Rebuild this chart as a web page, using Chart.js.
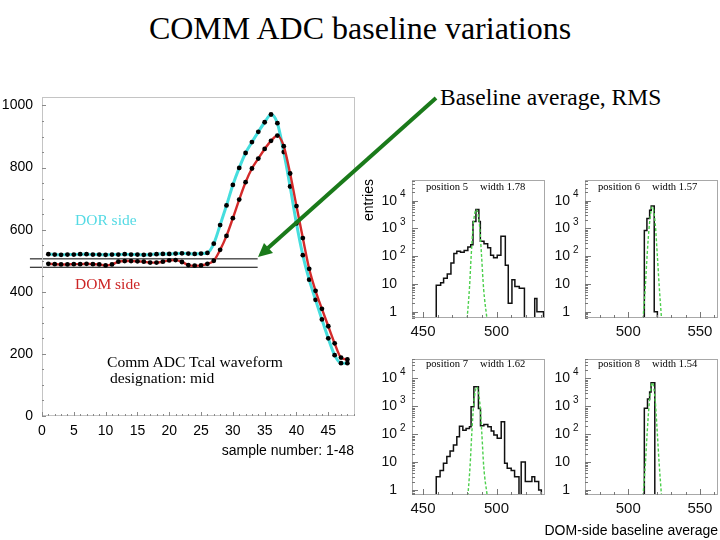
<!DOCTYPE html>
<html lang="en">
<head>
<meta charset="UTF-8">
<title>COMM ADC baseline variations</title>
<script src="https://cdn.jsdelivr.net/npm/chart.js@4.4.1/dist/chart.umd.min.js"></script>
<style>
    body {
        margin: 0;
        width: 720px;
        height: 540px;
        position: relative;
        overflow: hidden;
        background: #fff;
        color: #000;
        font-family: "Liberation Sans", Arial, sans-serif;
    }
    canvas, .txt, svg { position: absolute; }
    .txt { white-space: nowrap; line-height: 1; }
    .serif { font-family: "Liberation Serif", "Times New Roman", serif; }
    .pos { font-size: 10.6px; }
</style>
</head>
<body>
<div class="txt serif" style="left:0;width:720px;text-align:center;top:12px;font-size:32px">COMM ADC baseline variations</div>
<div class="txt serif" style="left:440px;top:86px;font-size:23.5px">Baseline average, RMS</div>

<canvas id="mainChart" width="360" height="380" style="left:0;top:80px"></canvas>
<canvas id="hist5" width="178" height="172" style="left:372px;top:170px"></canvas>
<canvas id="hist6" width="175" height="172" style="left:545px;top:170px"></canvas>
<canvas id="hist7" width="178" height="172" style="left:372px;top:349px"></canvas>
<canvas id="hist8" width="175" height="172" style="left:545px;top:349px"></canvas>

<div class="txt serif" style="left:75px;top:212px;font-size:15.5px;color:#54dae4">DOR side</div>
<div class="txt serif" style="left:75px;top:276px;font-size:15.5px;color:#cc2424">DOM side</div>
<div class="txt serif" style="left:107px;top:354px;font-size:15.6px">Comm ADC Tcal waveform</div>
<div class="txt serif" style="left:110px;top:370px;font-size:15.6px">designation: mid</div>
<div class="txt" style="right:366px;top:443px;font-size:14px">sample number: 1-48</div>

<div class="txt" style="left:368px;top:200px;font-size:14px;transform:translate(-50%,-50%) rotate(-90deg)">entries</div>
<div class="txt" style="right:2px;top:523px;font-size:14px">DOM-side baseline average</div>

<div class="txt serif pos" style="left:426px;top:182px">position 5</div>
<div class="txt serif pos" style="left:480px;top:182px">width 1.78</div>
<div class="txt serif pos" style="left:598px;top:182px">position 6</div>
<div class="txt serif pos" style="left:652px;top:182px">width 1.57</div>
<div class="txt serif pos" style="left:426px;top:359px">position 7</div>
<div class="txt serif pos" style="left:480px;top:359px">width 1.62</div>
<div class="txt serif pos" style="left:598px;top:359px">position 8</div>
<div class="txt serif pos" style="left:652px;top:359px">width 1.54</div>

<svg width="720" height="540" style="left:0;top:0;pointer-events:none">
    <line x1="436" y1="98" x2="268" y2="248" stroke="#1a7a1a" stroke-width="4"/>
    <polygon points="258,257 273,253 264,243" fill="#1a7a1a"/>
</svg>

<script>
// waveform, sample number 1-48
const sampleNo = [1, 2, 3, 4, 5, 6, 7, 8, 9, 10, 11, 12, 13, 14, 15, 16, 17, 18, 19, 20, 21, 22, 23, 24,
                  25, 26, 27, 28, 29, 30, 31, 32, 33, 34, 35, 36, 37, 38, 39, 40, 41, 42, 43, 44, 45, 46, 47, 48];
const dorSide = [521, 520, 519, 520, 520, 521, 521, 520, 520, 519, 520, 520, 521, 520, 520, 519, 520, 521, 522, 522,
                 523, 524, 523, 522, 523, 525, 555, 615, 678, 744, 799, 847, 882, 915, 946, 971, 943, 850, 739, 620,
                 518, 439, 374, 311, 250, 196, 170, 170];
const domSide = [490, 489, 488, 488, 489, 489, 490, 489, 488, 485, 488, 497, 499, 499, 498, 497, 494, 494, 497, 501,
                 502, 496, 486, 484, 485, 490, 500, 535, 580, 637, 697, 753, 797, 829, 860, 886, 903, 869, 781, 676,
                 573, 474, 403, 345, 289, 234, 188, 182];
const mainXTicks = [0, 5, 10, 15, 20, 25, 30, 35, 40, 45];
const mainYTicks = [0, 200, 400, 600, 800, 1000];
const baselineMarks = [506, 479];
const markSpan = [-1.9, 33.9];

// histograms: bin edges, entries per bin, dashed fit curve
const edges5 = [459, 462, 464, 466.5, 469, 471, 473, 475.5, 478, 480.5, 482.5, 484, 486, 488, 489, 491.5,
                494, 496, 498, 500.5, 503, 506, 508, 510.5, 512.5, 515.5, 519, 526, 527.5, 532];
const counts5 = [9, 11, 16, 23, 57, 124, 150, 140, 160, 215, 260, 1800, 4800, 1800, 345, 280,
                 200, 108, 87, 108, 525, 47, 2, 14, 8, 7, 0, 3, 1];
const fit5X = [480, 481.6, 482.8, 484.2, 486.3, 488.4, 489.8, 491.2, 493.5];
const fit5Y = [0.55, 7, 110, 1400, 4800, 1400, 110, 7, 0.55];

const edges6 = [511.2, 513, 514.9, 516, 518.1, 520.3];
const counts6 = [840, 2300, 4500, 6500, 1];
const fit6X = [510.3, 511.9, 513.2, 514.8, 516.8, 518.8, 520.2, 521.6, 523.2];
const fit6Y = [0.55, 8, 120, 1500, 6200, 1500, 120, 8, 0.55];

const edges7 = [459, 461.6, 463.9, 466.2, 468.4, 470.7, 473, 474.8, 477.1, 479.3, 481.6, 482.7, 484.6, 487.7,
                489.1, 491.4, 494.1, 496.4, 498.2, 500.5, 503.2, 505.5, 507.3, 510, 512.3, 515.3, 516.8, 519.6,
                524.1, 526, 528.7, 530.5];
const counts7 = [3, 5, 9, 16, 25, 41, 81, 195, 140, 160, 185, 960, 5000, 840, 200, 225, 185, 130, 93, 71,
                 280, 9, 6, 5, 3, 0, 10, 2, 3, 2, 1];
const fit7X = [480.5, 482, 483.2, 484.6, 486.6, 488.6, 490, 491.3, 493.7];
const fit7Y = [0.6, 7, 110, 1400, 5000, 1400, 110, 7, 0.6];

const edges8 = [511.2, 513.4, 514.9, 515.9, 518.5];
const counts8 = [850, 1850, 3300, 7000];
const fit8X = [510.3, 511.9, 513.2, 514.8, 516.8, 518.8, 520.2, 521.6, 523.2];
const fit8Y = [0.6, 8, 120, 1600, 7000, 1600, 120, 8, 0.6];

const logTicks = [1, 10, 100, 1000, 10000];

const pts = (xs, ys) => xs.map((x, i) => ({ x: x, y: ys[i] }));

// ROOT-like frame with ticks pointing into the plot
const rootAxes = {
    id: 'rootAxes',
    afterDatasetsDraw(chart, args, o) {
        const { ctx, chartArea: a, scales: { x, y } } = chart;
        ctx.save();
        ctx.lineWidth = 1;
        ctx.strokeStyle = o.frame;
        ctx.strokeRect(Math.round(a.left) + 0.5, Math.round(a.top) + 0.5,
                       Math.round(a.right - a.left) - 1, Math.round(a.bottom - a.top) - 1);

        ctx.strokeStyle = o.tickColor;
        ctx.beginPath();
        for (let i = Math.ceil(x.min / o.xMinor); i * o.xMinor <= x.max; i++) {
            const v = i * o.xMinor;
            const px = Math.round(x.getPixelForValue(v)) + 0.5;
            ctx.moveTo(px, a.bottom);
            ctx.lineTo(px, a.bottom - (v % o.xMajor === 0 ? o.major : o.minor));
        }
        const yt = [];
        if (y.type === 'logarithmic') {
            for (let k = Math.floor(Math.log10(y.min)); k <= Math.ceil(Math.log10(y.max)); k++) {
                for (let m = 1; m < 10; m++) {
                    const v = m * Math.pow(10, k);
                    if (v >= y.min && v <= y.max) yt.push([v, m === 1]);
                }
            }
        } else {
            for (let i = Math.ceil(y.min / o.yMinor); i * o.yMinor <= y.max; i++) {
                const v = i * o.yMinor;
                yt.push([v, v % o.yMajor === 0]);
            }
        }
        yt.forEach(([v, major]) => {
            const py = Math.round(y.getPixelForValue(v)) + 0.5;
            ctx.moveTo(a.left, py);
            ctx.lineTo(a.left + (major ? o.major : o.minor), py);
        });
        ctx.stroke();

        if (o.logLabels) {
            ctx.fillStyle = '#111';
            ctx.textBaseline = 'middle';
            const rx = a.left - 15;
            logTicks.forEach(v => {
                const py = y.getPixelForValue(v);
                const k = Math.round(Math.log10(v));
                ctx.font = '14px "Liberation Sans"';
                ctx.textAlign = 'right';
                ctx.fillText(k < 2 ? String(v) : '10', rx, py);
                if (k >= 2) {
                    ctx.font = '10px "Liberation Sans"';
                    ctx.textAlign = 'left';
                    ctx.fillText(String(k), rx + 3, py - 6);
                }
            });
        }
        ctx.restore();
    }
};
Chart.register(rootAxes);

new Chart(document.getElementById('mainChart'), {
    type: 'line',
    data: {
        datasets: [
            {
                data: pts(sampleNo, domSide),
                borderColor: '#d42a2a', borderWidth: 2.4,
                pointRadius: 2.4, pointBackgroundColor: '#000', pointBorderWidth: 0,
                cubicInterpolationMode: 'monotone'
            },
            {
                data: pts(sampleNo, dorSide),
                borderColor: '#46dede', borderWidth: 3,
                pointRadius: 2.4, pointBackgroundColor: '#000', pointBorderWidth: 0,
                cubicInterpolationMode: 'monotone'
            },
            ...baselineMarks.map(v => ({
                data: markSpan.map(x => ({ x: x, y: v })),
                borderColor: '#000', borderWidth: 1, pointRadius: 0, clip: false
            }))
        ]
    },
    options: {
        responsive: false,
        animation: false,
        devicePixelRatio: 1,
        layout: { padding: { top: 11, right: 5, left: 0, bottom: 0 } },
        plugins: {
            legend: { display: false },
            tooltip: { enabled: false },
            rootAxes: { frame: '#c4c4c4', tickColor: '#8a8a8a', xMinor: 1, xMajor: 5, yMinor: 50, yMajor: 200, major: 4, minor: 2 }
        },
        scales: {
            x: {
                type: 'linear', min: 0, max: 49.2,
                afterBuildTicks: s => { s.ticks = mainXTicks.map(v => ({ value: v })); },
                afterFit: s => { s.height = 44; },
                grid: { display: false, drawTicks: false },
                border: { display: false },
                ticks: { font: { family: 'Liberation Sans', size: 14 }, color: '#000', padding: 7, maxRotation: 0, autoSkip: false,
                         callback: v => String(v) }
            },
            y: {
                type: 'linear', min: 0, max: 1026,
                afterBuildTicks: s => { s.ticks = mainYTicks.map(v => ({ value: v })); },
                afterFit: s => { s.width = 42; },
                grid: { display: false, drawTicks: false },
                border: { display: false },
                ticks: { font: { family: 'Liberation Sans', size: 14 }, color: '#000', padding: 9,
                         callback: v => String(v) }
            }
        }
    }
});

function histChart(id, edges, counts, fitX, fitY, xRange, xTicks, yRange, xHeight, padRight) {
    const floor = yRange[0] / 5;
    const steps = [{ x: edges[0], y: floor }];
    counts.forEach((c, i) => steps.push({ x: edges[i], y: c > 0 ? c : floor }));
    steps.push({ x: edges[edges.length - 1], y: floor });

    return new Chart(document.getElementById(id), {
        type: 'line',
        data: {
            datasets: [
                {
                    data: pts(fitX, fitY),
                    borderColor: '#4ccf4c', borderWidth: 1.4, borderDash: [3, 2],
                    pointRadius: 0, cubicInterpolationMode: 'monotone'
                },
                {
                    data: steps, stepped: true,
                    borderColor: '#111', borderWidth: 1.5, pointRadius: 0
                }
            ]
        },
        options: {
            responsive: false,
            animation: false,
            devicePixelRatio: 1,
            layout: { padding: { top: 10, right: padRight, left: 0, bottom: 0 } },
            plugins: {
                legend: { display: false },
                tooltip: { enabled: false },
                rootAxes: { frame: '#a8a8a8', tickColor: '#777', xMinor: 10, xMajor: 50, major: 6, minor: 3, logLabels: true }
            },
            scales: {
                x: {
                    type: 'linear', min: xRange[0], max: xRange[1],
                    afterBuildTicks: s => { s.ticks = xTicks.map(v => ({ value: v })); },
                    afterFit: s => { s.height = xHeight; },
                    grid: { display: false, drawTicks: false },
                    border: { display: false },
                    ticks: { font: { family: 'Liberation Sans', size: 15 }, color: '#111', padding: 5, maxRotation: 0, autoSkip: false,
                             callback: v => String(v) }
                },
                y: {
                    type: 'logarithmic', min: yRange[0], max: yRange[1],
                    afterBuildTicks: s => { s.ticks = logTicks.map(v => ({ value: v })); },
                    afterFit: s => { s.width = 40; },
                    grid: { display: false, drawTicks: false },
                    border: { display: false },
                    ticks: { display: false }
                }
            }
        }
    });
}

histChart('hist5', edges5, counts5, fit5X, fit5Y, [442.5, 533], [450, 500], [0.59, 56000], 24, 5);
histChart('hist6', edges6, counts6, fit6X, fit6Y, [469.8, 562.6], [500, 550], [0.59, 56000], 24, 2);
histChart('hist7', edges7, counts7, fit7X, fit7Y, [442.5, 533], [450, 500], [0.66, 50000], 26, 5);
histChart('hist8', edges8, counts8, fit8X, fit8Y, [469.8, 562.6], [500, 550], [0.66, 50000], 26, 2);
</script>
</body>
</html>
